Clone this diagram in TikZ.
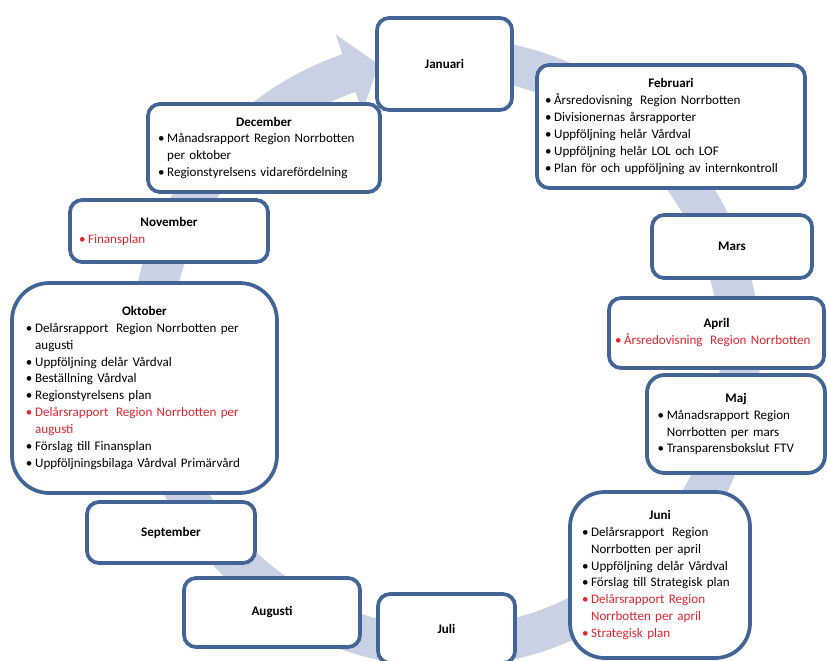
\documentclass[tikz,border=0pt]{standalone}
\usepackage{fontspec}
\setmainfont{Carlito}
\definecolor{bandblue}{RGB}{200,210,228}
\definecolor{boxblue}{RGB}{66,100,150}
\definecolor{itemred}{RGB}{226,38,48}
\newcommand{\hd}[1]{{\centering\bfseries #1\par}}
\newcommand{\itm}[1]{\par\hangindent=0.7em\hangafter=1\noindent\makebox[0.7em][l]{\textbullet}#1}
\newcommand{\itmr}[1]{\par\hangindent=0.7em\hangafter=1\noindent{\color{itemred}\makebox[0.7em][l]{\textbullet}#1}}
\begin{document}
\begin{tikzpicture}[x=0.75pt, y=-0.75pt,
  mbox/.style={draw=boxblue, line width=2.8pt, fill=white, rounded corners=9pt, inner ysep=0pt, font=\fontsize{9.8}{12.7}\selectfont},
  mlist/.style={mbox, align=left}]
\useasboundingbox (0,0) rectangle (827,660);
\clip (0,0) rectangle (827,660);
% circular arrow behind the months
\fill[bandblue, shift={(445,352)}] (280:315) arc[start angle=280, end angle=611, radius=315] -- (611:336) -- (617:295) -- (611:254) -- (611:275) arc[start angle=611, end angle=280, radius=275] -- cycle;
% months
\node[mbox, minimum width=101.25pt, minimum height=69pt] (mon1) at (444.5,64) {\bfseries Januari};
\node[mlist, minimum width=201pt, minimum height=92.25pt, text width=189pt, inner xsep=6pt] (mon2) at (671,126.5) {\hd{Februari}\itm{Årsredovisning\hspace{0.25em} Region Norrbotten}\itm{Divisionernas årsrapporter}\itm{Uppföljning helår Vårdval}\itm{Uppföljning helår LOL och LOF}\itm{Plan för och uppföljning av internkontroll}};
\node[mbox, minimum width=120pt, minimum height=47.25pt] (mon3) at (732,246.5) {\bfseries Mars};
\node[mlist, minimum width=161.25pt, minimum height=52.5pt, text width=152.25pt, inner xsep=4.5pt] (mon4) at (716.5,333) {\hd{April}\itmr{Årsredovisning\hspace{0.25em} Region Norrbotten}};
\node[mlist, rounded corners=13pt, minimum width=133.5pt, minimum height=73.5pt, text width=117.5pt, inner xsep=8pt] (mon5) at (736,424) {\hd{Maj}\itm{Månadsrapport Region\newline Norrbotten per mars}\itm{Transparensbokslut FTV}};
\node[mlist, rounded corners=26pt, minimum width=135pt, minimum height=124.5pt, text width=117pt, inner xsep=9pt] (mon6) at (660,575) {\hd{Juni}\itm{Delårsrapport\hspace{0.25em} Region\newline Norrbotten per april}\itm{Uppföljning delår Vårdval}\itm{Förslag till Strategisk plan}\itmr{Delårsrapport Region\newline Norrbotten per april}\itmr{Strategisk plan}};
\node[mbox, minimum width=102.75pt, minimum height=51.75pt] (mon7) at (446.5,628.5) {\bfseries Juli};
\node[mbox, minimum width=132pt, minimum height=51.75pt] (mon8) at (272,612.5) {\bfseries Augusti};
\node[mbox, minimum width=126pt, minimum height=45.75pt] (mon9) at (171,532.5) {\bfseries September};
\node[mlist, rounded corners=28pt, minimum width=198.75pt, minimum height=157.5pt, text width=177.75pt, inner xsep=10.5pt] (mon10) at (144.5,388) {\hd{Oktober}\itm{Delårsrapport\hspace{0.25em} Region Norrbotten per\newline augusti}\itm{Uppföljning delår Vårdval}\itm{Beställning Vårdval}\itm{Regionstyrelsens plan}\itmr{Delårsrapport\hspace{0.25em} Region Norrbotten per\newline augusti}\itm{Förslag till Finansplan}\itm{Uppföljningsbilaga Vårdval Primärvård}};
\node[mlist, minimum width=148.5pt, minimum height=46.5pt, text width=135pt, inner xsep=6.75pt] (mon11) at (169,231) {\hd{November}\itmr{Finansplan}};
\node[mlist, minimum width=174pt, minimum height=66pt, text width=159pt, inner xsep=7.5pt] (mon12) at (264,148) {\hd{December}\itm{Månadsrapport Region Norrbotten\newline per oktober}\itm{Regionstyrelsens vidarefördelning}};
\end{tikzpicture}
\end{document}
